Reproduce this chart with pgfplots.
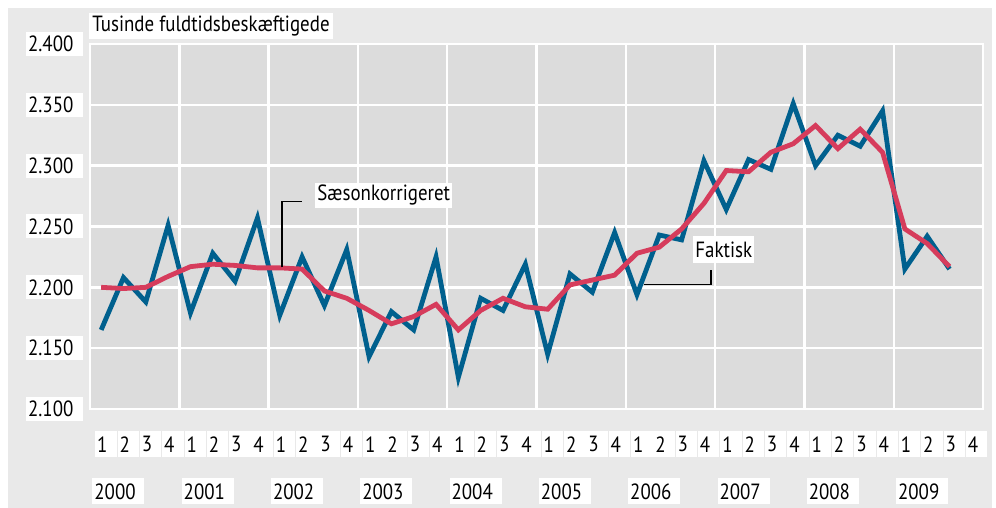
\documentclass[border=0pt]{standalone}
\usepackage{fontspec}
\setmainfont{PT Sans}[FakeStretch=0.86]
\usepackage{pgfplots}
\pgfplotsset{compat=1.18}
\definecolor{bgout}{RGB}{233,233,233}
\definecolor{bgplot}{RGB}{220,220,220}
\definecolor{cblue}{RGB}{0,96,142}
\definecolor{cred}{RGB}{214,60,92}
\begin{document}
\fontsize{11pt}{13pt}\selectfont
\begin{tikzpicture}
\useasboundingbox (0,0) rectangle (498pt,254pt);
\fill[white] (0,0) rectangle (498pt,254pt);
\fill[bgout] (4pt,0) rectangle (496pt,250pt);
\node[anchor=west, fill=white, inner xsep=1.5pt, inner ysep=0pt, minimum height=13pt] at (44.5pt,241pt) {Tusinde fuldtidsbeskæftigede};
\begin{axis}[
  at={(45pt,49.5pt)}, anchor=south west,
  scale only axis, width=446.5pt, height=182.5pt,
  xmin=0, xmax=40, ymin=2.1, ymax=2.4,
  clip=false,
  axis background/.style={fill=bgplot},
  axis line style={white, line width=1.2pt},
  major tick length=0pt,
  ytick={2.1,2.15,2.2,2.25,2.3,2.35,2.4},
  yticklabels={2.100,2.150,2.200,2.250,2.300,2.350,2.400},
  yticklabel style={anchor=east, xshift=-3.5pt, fill=white, text width=26pt, inner xsep=1.25pt, inner ysep=0pt, minimum height=12pt, align=left},
  ymajorgrids, xmajorgrids,
  grid style={white, line width=1.2pt},
  xtick={4,8,...,36},
  xticklabels={},
  extra x ticks={0,1,...,39},
  extra x tick labels={1,2,3,4,1,2,3,4,1,2,3,4,1,2,3,4,1,2,3,4,1,2,3,4,1,2,3,4,1,2,3,4,1,2,3,4,1,2,3,4},
  extra x tick style={grid=none, major tick length=0pt, xticklabel style={anchor=north west, xshift=2.4pt, yshift=-11pt, fill=white, text width=8.75pt, inner xsep=1pt, inner ysep=0pt, minimum height=13pt, align=left}},
]
\addplot[cblue, line width=2.4pt] coordinates {
(0.5,2.165) (1.5,2.208) (2.5,2.188) (3.5,2.251)
(4.5,2.179) (5.5,2.228) (6.5,2.205) (7.5,2.257)
(8.5,2.177) (9.5,2.225) (10.5,2.185) (11.5,2.231)
(12.5,2.143) (13.5,2.180) (14.5,2.165) (15.5,2.225)
(16.5,2.126) (17.5,2.191) (18.5,2.181) (19.5,2.219)
(20.5,2.145) (21.5,2.211) (22.5,2.196) (23.5,2.245)
(24.5,2.194) (25.5,2.243) (26.5,2.239) (27.5,2.304)
(28.5,2.264) (29.5,2.305) (30.5,2.297) (31.5,2.351)
(32.5,2.300) (33.5,2.325) (34.5,2.316) (35.5,2.345)
(36.5,2.215) (37.5,2.242) (38.5,2.215)
};
\addplot[cred, line width=2.4pt] coordinates {
(0.5,2.200) (1.5,2.199) (2.5,2.200) (3.5,2.209)
(4.5,2.217) (5.5,2.219) (6.5,2.218) (7.5,2.216)
(8.5,2.216) (9.5,2.215) (10.5,2.197) (11.5,2.191)
(12.5,2.181) (13.5,2.170) (14.5,2.176) (15.5,2.186)
(16.5,2.165) (17.5,2.181) (18.5,2.191) (19.5,2.184)
(20.5,2.182) (21.5,2.202) (22.5,2.206) (23.5,2.210)
(24.5,2.228) (25.5,2.233) (26.5,2.248) (27.5,2.269)
(28.5,2.296) (29.5,2.295) (30.5,2.311) (31.5,2.318)
(32.5,2.333) (33.5,2.314) (34.5,2.330) (35.5,2.311)
(36.5,2.248) (37.5,2.236) (38.5,2.217)
};
\draw[black, line width=0.75pt] (axis cs:8.59,2.2164) -- (axis cs:8.59,2.2707) -- (axis cs:9.50,2.2707);
\node[anchor=west, fill=white, inner xsep=1pt, inner ysep=0pt, minimum height=12.5pt] at (axis cs:10.08,2.2758) {Sæsonkorrigeret};
\draw[black, line width=0.75pt] (axis cs:24.82,2.2025) -- (axis cs:27.82,2.2025) -- (axis cs:27.82,2.2139);
\node[anchor=west, fill=white, inner xsep=1pt, inner ysep=0pt, minimum height=13.5pt] at (axis cs:27.01,2.2307) {Faktisk};
\end{axis}
\foreach \i [evaluate=\i as \yr using int(2000+\i)] in {0,...,9} {
  \node[anchor=north west, fill=white, text width=24pt, inner xsep=1pt, inner ysep=0pt, minimum height=13pt, align=left] at ({45pt+44.65pt*\i+1pt},15pt) {\yr};
}
\end{tikzpicture}
\end{document}
